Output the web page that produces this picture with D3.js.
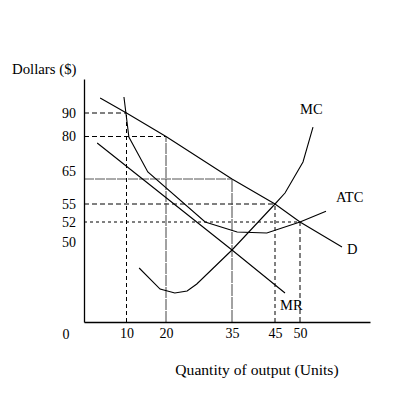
<!DOCTYPE html>
<html>
<head>
<meta charset="utf-8">
<script src="https://cdn.jsdelivr.net/npm/d3@7"></script>
<style>
  html, body { margin: 0; padding: 0; background: #fff; }
  svg { display: block; }
  text { font-family: "Liberation Serif", "Times New Roman", serif; fill: #000; }
</style>
</head>
<body>
<svg id="chart" width="400" height="400"></svg>
<script>
// ---- Data (Quantity, Dollars) ----
const xTicks = [10, 20, 35, 45, 50];
const yTicks = [90, 80, 65, 55, 52, 50];

const demandQ = [3.8, 10, 20, 35, 45, 50, 58.4];
const demandP = [96.4, 90, 80, 65, 55, 52, 46.9];

const mrQ = [3.1, 35, 47];
const mrP = [77.7, 45, 18.1];

const atcQ = [9.4, 10.6, 15.4, 28.9, 36.2, 43.1, 50, 55.2];
const atcP = [96.8, 79.8, 67.5, 52, 51, 50.9, 52, 53.8];

const mcQ = [13.2, 18.5, 22.0, 24.8, 27.0, 35, 45, 47, 50.6, 52.6];
const mcP = [33.75, 20.6, 18.1, 19.4, 23.75, 45, 55, 59.4, 71, 84];

// reference (dashed) lines: quantity and price pairs
const refQ = [10, 20, 35, 45, 50];
const refP = [90, 80, 65, 55, 52];

// ---- Scales (hand-drawn sketch: piecewise linear) ----
const x = d3.scaleLinear()
  .domain([0, 10, 20, 35, 45, 50, 64])
  .range([84, 126.5, 166, 232, 275, 300, 370]);
const y = d3.scaleLinear()
  .domain([0, 50, 52, 55, 65, 80, 90, 104.5])
  .range([322, 242, 222, 204, 179, 136.5, 113, 79]);

const svg = d3.select("#chart");

// dashed reference lines
const hDash = {90: "5,3", 80: "5,3", 65: "10,1", 55: "5,3", 52: "3,3"};
const vDash = {10: "4,3", 20: "11,1", 35: "12,1", 45: "4,3", 50: "5,3"};
const refs = refQ.map((q, i) => ({q, p: refP[i]}));
const gRef = svg.append("g").attr("stroke", "#000").attr("stroke-width", 1).attr("fill", "none");
gRef.selectAll("line.h").data(refs).join("line")
  .attr("class", "h")
  .attr("x1", x(0)).attr("x2", d => x(d.q))
  .attr("y1", d => y(d.p)).attr("y2", d => y(d.p))
  .attr("stroke-dasharray", d => hDash[d.p])
  .attr("stroke", d => d.p === 65 ? "#555" : "#000");
gRef.selectAll("line.v").data(refs).join("line")
  .attr("class", "v")
  .attr("x1", d => x(d.q)).attr("x2", d => x(d.q))
  .attr("y1", y(0)).attr("y2", d => y(d.p))
  .attr("stroke-dasharray", d => vDash[d.q])
  .attr("stroke", d => (d.q === 20 || d.q === 35) ? "#444" : "#000");

// curves
const line = d3.line().x(d => x(d[0])).y(d => y(d[1]));
const series = [
  {name: "D", q: demandQ, p: demandP},
  {name: "MR", q: mrQ, p: mrP},
  {name: "ATC", q: atcQ, p: atcP},
  {name: "MC", q: mcQ, p: mcP}
];
svg.append("g").selectAll("path").data(series).join("path")
  .attr("d", s => line(s.q.map((q, i) => [q, s.p[i]])))
  .attr("fill", "none").attr("stroke", "#000").attr("stroke-width", 1.1);

// curve labels (placed relative to each curve's end point)
const labelOffset = {D: [5, 2], MR: [-5, 12], ATC: [10, -14], MC: [-13, -18]};
svg.append("g").selectAll("text").data(series).join("text")
  .attr("x", s => x(s.q[s.q.length - 1]) + labelOffset[s.name][0])
  .attr("y", s => y(s.p[s.p.length - 1]) + labelOffset[s.name][1])
  .attr("dy", "0.35em")
  .attr("font-size", 14.5)
  .text(s => s.name);

// axes
const xAxis = d3.axisBottom(x).tickValues(xTicks).tickSize(0).tickSizeOuter(0).tickPadding(6);
const gx = svg.append("g").attr("transform", `translate(0,${y(0)})`).call(xAxis);
gx.select(".domain").attr("stroke", "#000").attr("stroke-width", 1.3);
gx.selectAll("text").attr("font-size", 14).attr("font-family", "Liberation Serif").attr("fill", "#000");

const yAxis = d3.axisLeft(y).tickValues(yTicks).tickSize(0).tickSizeOuter(0).tickPadding(8);
const gy = svg.append("g").attr("transform", `translate(${x(0)},0)`).call(yAxis);
gy.select(".domain").attr("stroke", "#000").attr("stroke-width", 1.3);
gy.selectAll("text").attr("font-size", 14).attr("font-family", "Liberation Serif").attr("fill", "#000")
  .attr("transform", d => d === 65 ? "translate(0,-8)" : null);

// origin label
svg.append("text").attr("x", x(0) - 18).attr("y", y(0) + 17)
  .attr("text-anchor", "middle").attr("font-size", 14).text("0");

// axis titles
svg.append("text").attr("x", 12).attr("y", 74).attr("font-size", 14.8).text("Dollars ($)");
svg.append("text").attr("x", 257).attr("y", 375).attr("text-anchor", "middle")
  .attr("font-size", 15.6).text("Quantity of output (Units)");
</script>
</body>
</html>
